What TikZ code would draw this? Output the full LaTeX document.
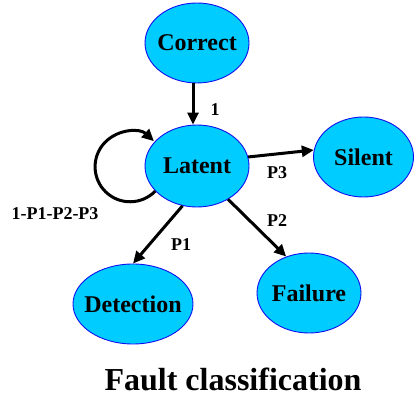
\documentclass[tikz,border=0pt]{standalone}
\usepackage{fontspec}
\setmainfont{Liberation Serif}
\usetikzlibrary{shapes.geometric,arrows.meta}
\definecolor{statefill}{HTML}{00CCFF}
\definecolor{stateline}{HTML}{1010F0}
\tikzset{
  state/.style={ellipse, draw=stateline, line width=0.9pt, fill=statefill,
    inner sep=0pt, font=\fontsize{24}{24}\selectfont\bfseries},
  trans/.style={line width=3pt, -{Triangle[length=12pt,width=11pt]}},
  prob/.style={font=\fontsize{18}{18}\selectfont\bfseries, inner sep=0pt}
}
% state label that does not widen its ellipse
\newcommand{\statelabel}[1]{\makebox[0pt]{#1}}
\begin{document}
\begin{tikzpicture}[x=1pt,y=1pt]
  \useasboundingbox (0,0) rectangle (414,398);

  % states
  \node[state, minimum width=104pt, minimum height=80pt] (cor) at (197,355) {\statelabel{Correct}};
  \node[state, minimum width=104pt, minimum height=82pt] (lat) at (197,232) {\statelabel{Latent}};
  \node[state, minimum width=100pt, minimum height=80pt] (sil) at (363.5,241) {\statelabel{Silent}};
  \node[state, minimum width=120pt, minimum height=80pt] (det) at (133,94) {\statelabel{Detection}};
  \node[state, minimum width=104pt, minimum height=80pt] (fail) at (309,105) {\statelabel{Failure}};

  % transitions
  \draw[trans] ([xshift=-4pt]cor.south) -- ([xshift=-4pt]lat.north);
  \draw[trans] (lat.10) -- (sil.172);
  \draw[trans] (lat.250) -- (det.north);
  \draw[trans] (lat.313) -- (fail.122);
  \draw[trans] (lat.211.5) arc[start angle=-44, end angle=-313, radius=35pt];

  % transition probabilities
  \node[prob] (p0) at (215,288) {1};
  \node[prob] (p3) at (277,225) {P3};
  \node[prob] (pl) at (55,184) {1-P1-P2-P3};
  \node[prob] (p2) at (277,177) {P2};
  \node[prob] (p1) at (181,153) {P1};

  % caption
  \node[font=\fontsize{32}{32}\selectfont\bfseries, anchor=base, inner sep=0pt]
    (title) at (233,8) {Fault classification};
\end{tikzpicture}
\end{document}
